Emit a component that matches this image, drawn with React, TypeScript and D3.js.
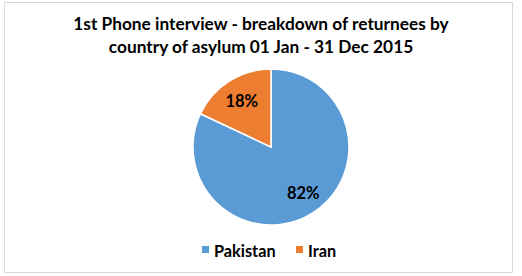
import React from 'react'
import * as d3 from 'd3'

const countries = ['Pakistan', 'Iran']
const shares = [82, 18]
const colors = ['#5B9BD5', '#ED7D31']
const titleLines = ['1st Phone interview - breakdown of returnees by', 'country of asylum 01 Jan  - 31 Dec 2015']

const W = 522
const H = 276
const FONT = 'Lato, "Open Sans", sans-serif'

const App = () => {
  const cx = 271
  const cy = 147
  const r = 78

  const pie = d3.pie<number>().sort(null).value((d) => d)
  const slices = pie(shares)
  const arc = d3.arc<d3.PieArcDatum<number>>().innerRadius(0).outerRadius(r)
  const labelArc = d3.arc<d3.PieArcDatum<number>>().innerRadius(r * 0.7).outerRadius(r * 0.7)

  const legendX = [202, 296]

  return (
    <svg width={W} height={H} style={{ position: 'absolute', left: 0, top: 0, fontFamily: FONT }}>
      <rect x={4.5} y={2.5} width={508} height={270} fill="#fff" stroke="#d9d9d9" />
      {titleLines.map((t, i) => (
        <text key={i} x={261} y={30 + i * 23} textAnchor="middle" fontSize={17.3} fontWeight="bold" fill="#000">
          {t}
        </text>
      ))}
      <g transform={`translate(${cx},${cy})`}>
        {slices.map((s, i) => (
          <path key={i} d={arc(s) ?? ''} fill={colors[i]} stroke="#fff" strokeWidth={1.5} />
        ))}
        {slices.map((s, i) => {
          const [lx, ly] = labelArc.centroid(s)
          return (
            <text key={i} x={lx + (i === 0 ? 3 : 0)} y={ly} dy="0.35em" textAnchor="middle" fontSize={16.5} fontWeight="bold" fill="#000">
              {`${s.data}%`}
            </text>
          )
        })}
      </g>
      {countries.map((c, i) => (
        <g key={c} transform={`translate(${legendX[i]},251)`}>
          <rect x={0} y={-5} width={7} height={7} fill={colors[i]} />
          <text x={12} y={0} dy="0.35em" fontSize={16.3} fontWeight="bold" fill="#000">
            {c}
          </text>
        </g>
      ))}
    </svg>
  )
}

export default App
